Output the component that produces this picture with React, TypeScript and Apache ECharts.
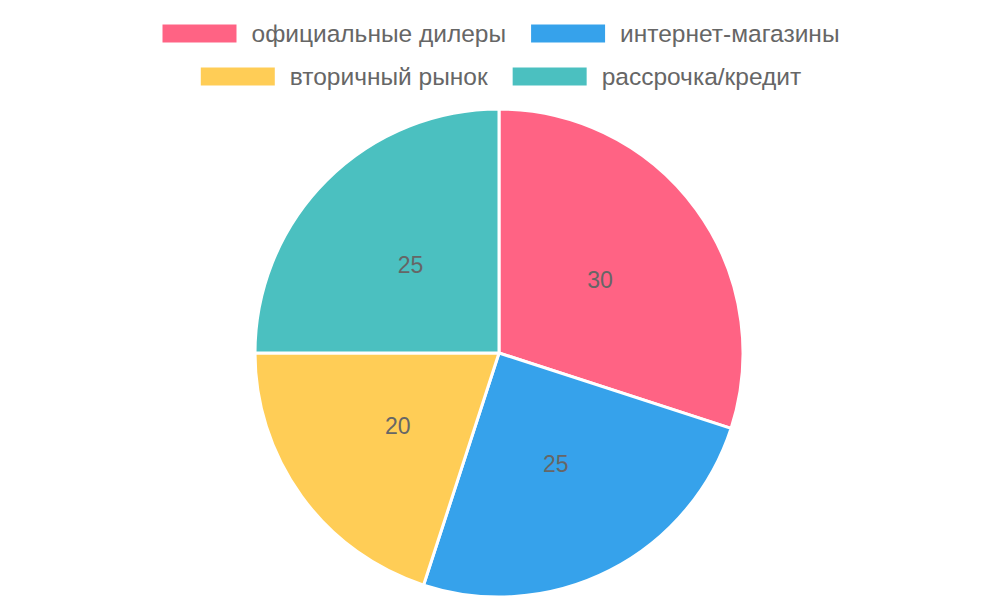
import React, { useEffect, useRef } from "react";
import * as echarts from "echarts";

const categories = ["официальные дилеры", "интернет-магазины", "вторичный рынок", "рассрочка/кредит"];
const values = [30, 25, 20, 25];
const colors = ["#ff6384", "#36a2eb", "#ffcd56", "#4bc0c0"];

const legendRows = [categories.slice(0, 2), categories.slice(2, 4)];

export default function App() {
  const ref = useRef<HTMLDivElement>(null);

  useEffect(() => {
    if (!ref.current) return;
    const chart = echarts.init(ref.current, undefined, { renderer: "svg" });
    const font = "'Liberation Sans', Arial, Helvetica, sans-serif";
    const legendBase = {
      left: "center",
      orient: "horizontal" as const,
      icon: "rect",
      itemWidth: 76,
      itemHeight: 20,
      itemGap: 23,
      selectedMode: false,
      textStyle: {
        fontFamily: font,
        fontSize: 24.5,
        color: "#666",
        padding: [0, 0, 0, 9],
      },
    };
    chart.setOption({
      animation: false,
      color: colors,
      legend: [
        { ...legendBase, top: 16, data: legendRows[0] },
        { ...legendBase, top: 59, data: legendRows[1] },
      ],
      series: [
        {
          type: "pie",
          center: [499, 353],
          radius: 244,
          startAngle: 90,
          clockwise: true,
          data: categories.map((name, i) => ({ name, value: values[i] })),
          itemStyle: { borderColor: "#fff", borderWidth: 3 },
          label: {
            show: true,
            position: "inside",
            formatter: "{c}",
            fontFamily: font,
            fontSize: 23,
            color: "#666",
          },
          labelLine: { show: false },
          emphasis: { disabled: true },
        },
      ],
    });
    return () => chart.dispose();
  }, []);

  return <div ref={ref} style={{ width: 1000, height: 600, position: "absolute", left: 0, top: 0 }} />;
}
